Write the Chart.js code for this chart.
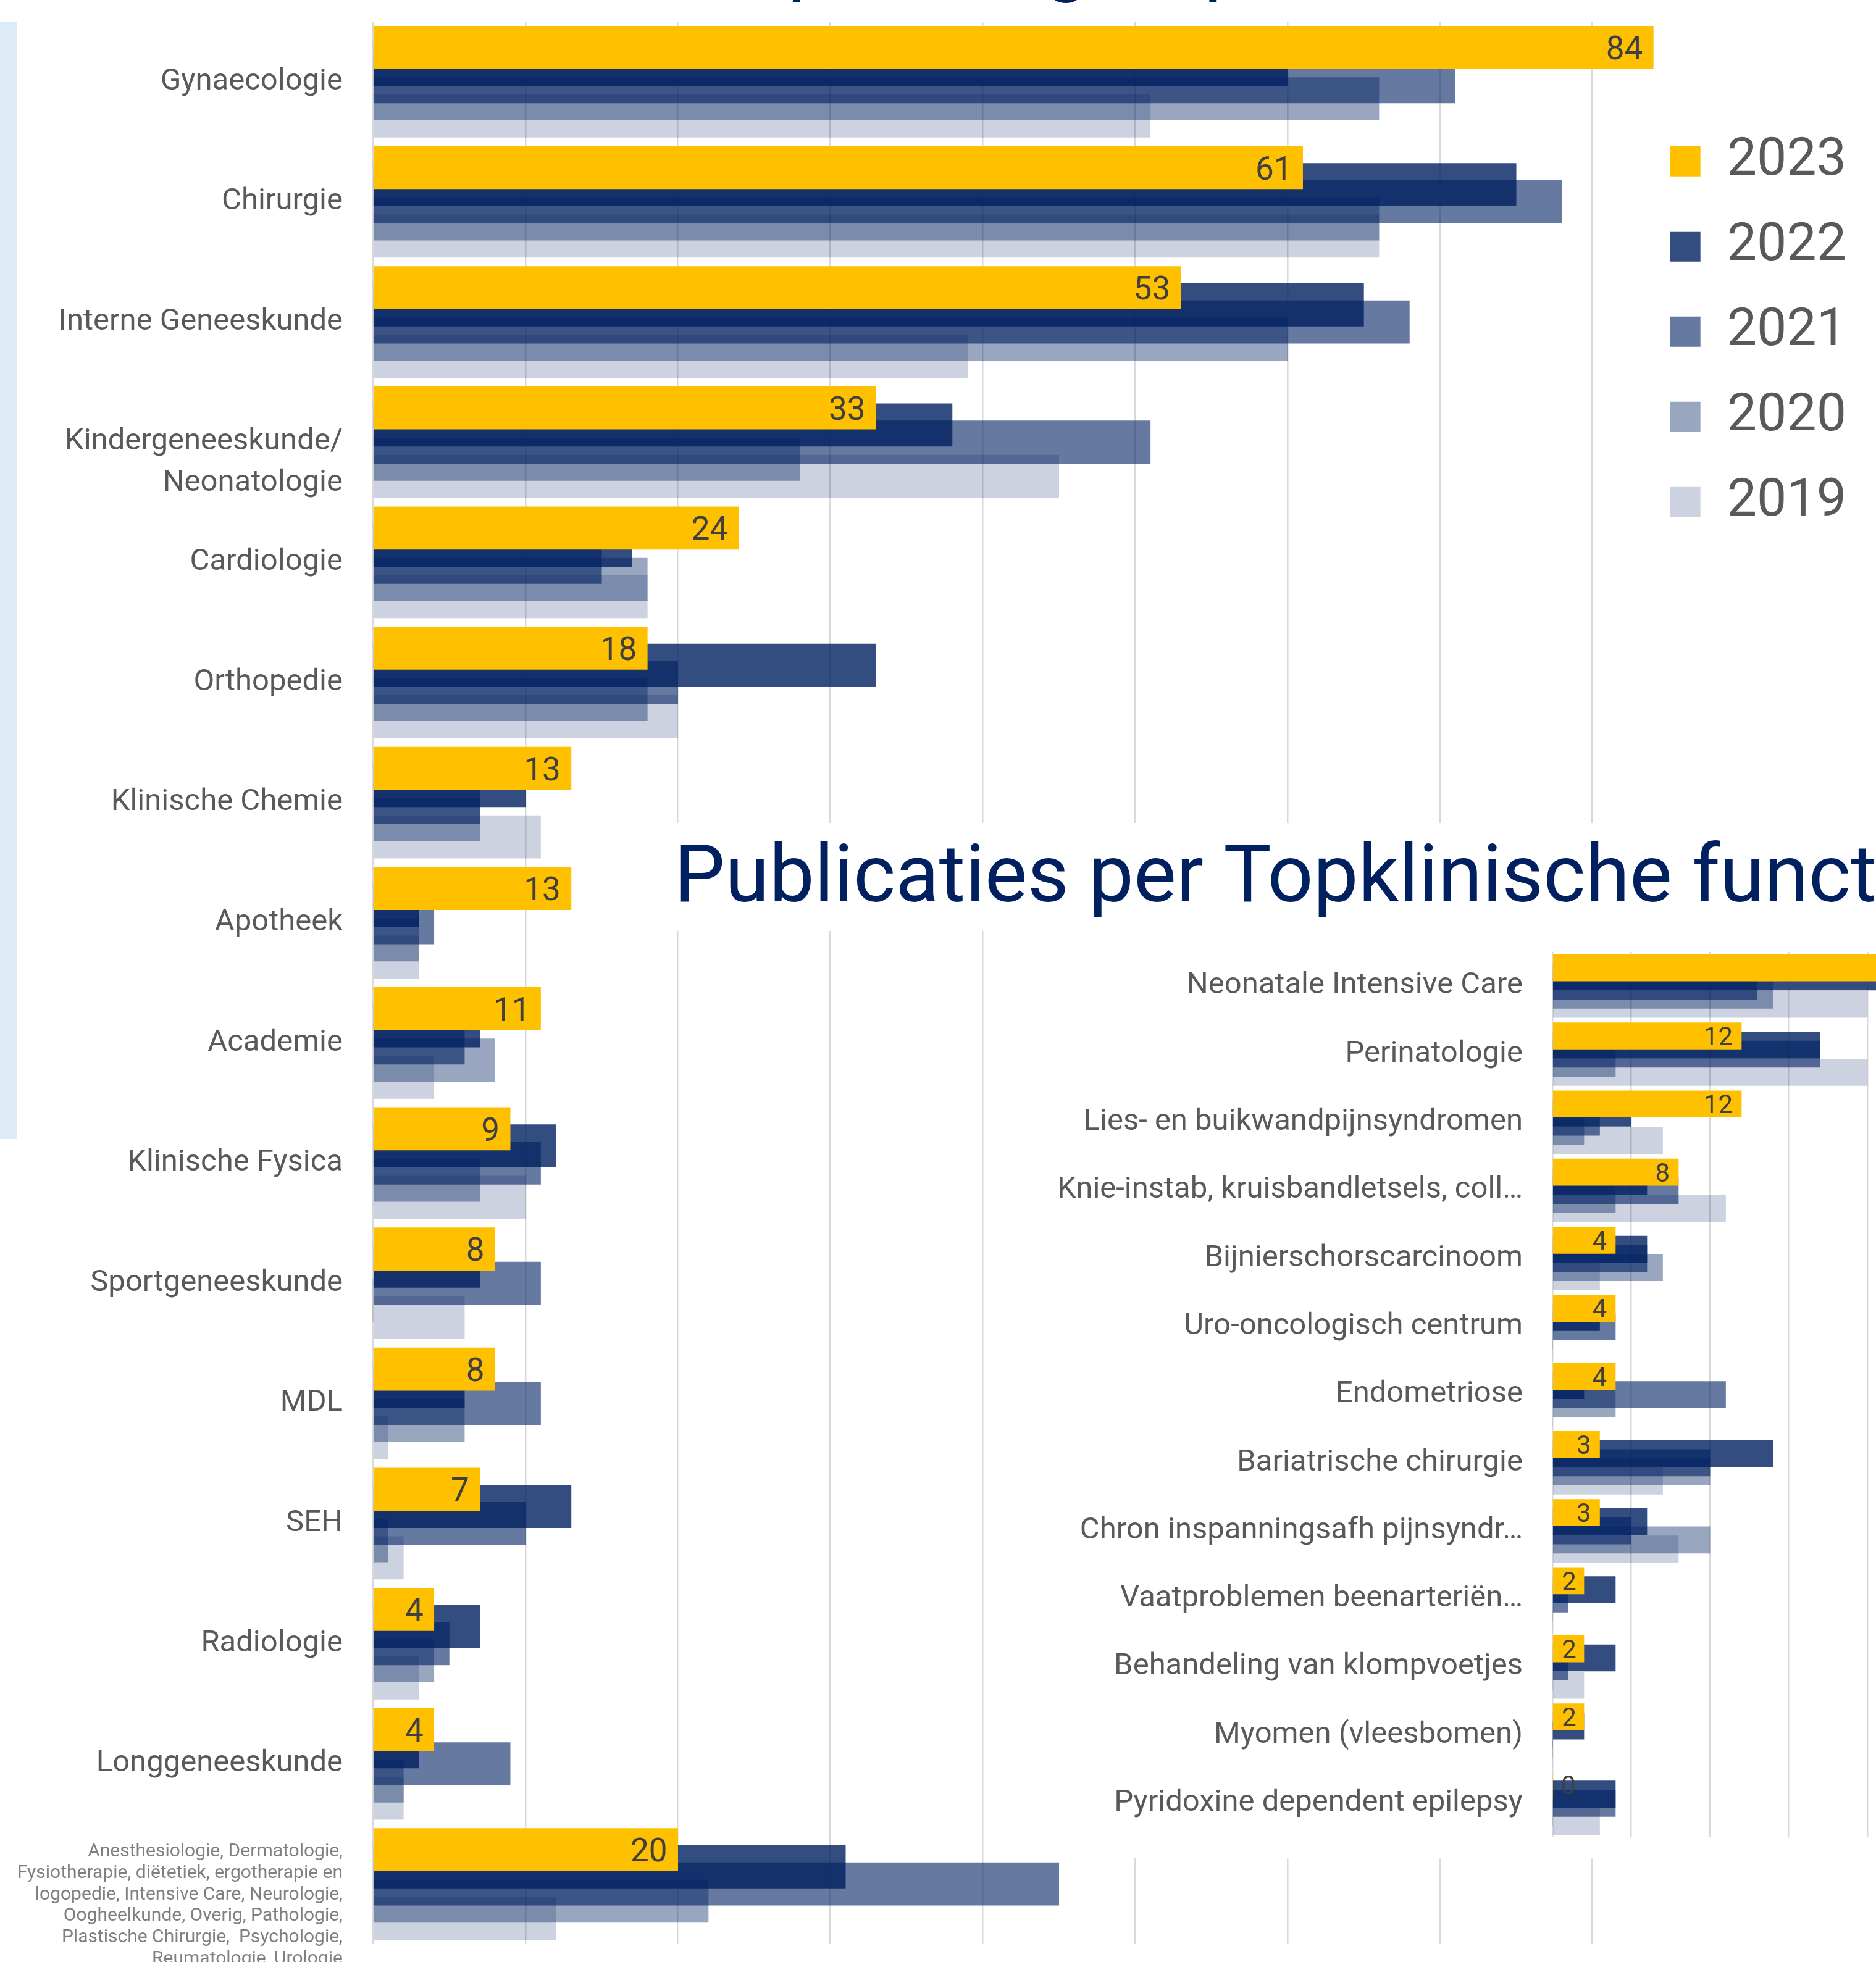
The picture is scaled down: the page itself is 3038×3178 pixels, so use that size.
<!DOCTYPE html>
<html>
<head>
<meta charset="utf-8">
<script src="https://cdn.jsdelivr.net/npm/chart.js@4"></script>
<style>
  html, body { margin: 0; padding: 0; width: 3038px; height: 3178px; overflow: hidden; background: #fff; }
  #left { position: absolute; left: 0; top: 0; }
  #right { position: absolute; left: 1085px; top: 1333px; }
</style>
</head>
<body>
<canvas id="left" width="3038" height="3178"></canvas>
<canvas id="right" width="2194" height="1676"></canvas>
<script>
// data
const years = ['2023', '2022', '2021', '2020', '2019'];

const deptLabels = [
    'Gynaecologie', 'Chirurgie', 'Interne Geneeskunde',
    ['', 'Kindergeneeskunde/', 'Neonatologie'],
    'Cardiologie', 'Orthopedie', 'Klinische Chemie', 'Apotheek', 'Academie',
    'Klinische Fysica', 'Sportgeneeskunde', 'MDL', 'SEH', 'Radiologie', 'Longgeneeskunde',
    ['', '', 'Anesthesiologie, Dermatologie,', 'Fysiotherapie, diëtetiek, ergotherapie en',
     'logopedie, Intensive Care, Neurologie,', 'Oogheelkunde, Overig, Pathologie,',
     'Plastische Chirurgie,  Psychologie,', 'Reumatologie, Urologie']
];
const dept2023 = [84, 61, 53, 33, 24, 18, 13, 13, 11, 9, 8, 8, 7, 4, 4, 20];
const dept2022 = [60, 75, 65, 38, 17, 33, 10, 3, 7, 12, 7, 6, 13, 7, 3, 31];
const dept2021 = [71, 78, 68, 51, 15, 20, 7, 4, 6, 11, 11, 11, 10, 5, 9, 45];
const dept2020 = [66, 66, 60, 28, 18, 18, 7, 3, 8, 7, 0, 6, 1, 4, 2, 22];
const dept2019 = [51, 66, 39, 45, 18, 20, 11, 3, 4, 10, 6, 1, 2, 3, 2, 12];

const topLabels = [
    'Neonatale Intensive Care', 'Perinatologie', 'Lies- en buikwandpijnsyndromen',
    'Knie-instab, kruisbandletsels, coll…', 'Bijnierschorscarcinoom', 'Uro-oncologisch centrum',
    'Endometriose', 'Bariatrische chirurgie', 'Chron inspanningsafh pijnsyndr…',
    'Vaatproblemen beenarteriën…', 'Behandeling van klompvoetjes', 'Myomen (vleesbomen)',
    'Pyridoxine dependent epilepsy'
];
const top2023 = [25, 12, 12, 8, 4, 4, 4, 3, 3, 2, 2, 2, 0];
const top2022 = [22, 17, 5, 6, 6, 3, 2, 14, 6, 4, 4, 2, 4];
const top2021 = [13, 17, 3, 8, 6, 4, 11, 10, 5, 1, 1, 0, 4];
const top2020 = [14, 4, 2, 4, 7, 0, 4, 10, 10, 0, 0, 0, 0];
const top2019 = [20, 20, 7, 11, 3, 0, 0, 7, 8, 0, 2, 0, 3];

const deptTicks = [0, 10, 20, 30, 40, 50, 60, 70, 80];
const topTicks = [0, 5, 10, 15, 20, 25, 30];

// colours
const navy = a => 'rgba(0, 32, 96, ' + a + ')';
const seriesColors = ['#FFC000', navy(0.8), navy(0.6), navy(0.4), navy(0.2)];

// overlapping bars: each year sits a little lower than the one before
function buildDatasets(series, step) {
    return series.map((vals, k) => ({
        label: years[k],
        data: vals.map((v, i) => ({ x: v, y: i + (k - 2) * step })),
        backgroundColor: seriesColors[k],
        borderWidth: 0,
        grouped: false,
        clip: false
    }));
}

// fixed label column, no extra room for tall first/last labels
function fixAxis(width) {
    return s => {
        s.width = width;
        s.paddingTop = 0;
        s.paddingBottom = 0;
    };
}

// value labels on the 2023 bars, inside end
const valueLabels = {
    id: 'valueLabels',
    afterDatasetsDraw(chart, args, opts) {
        const ctx = chart.ctx;
        const meta = chart.getDatasetMeta(0);
        ctx.save();
        ctx.font = opts.size + 'px Roboto';
        ctx.fillStyle = '#404040';
        ctx.textAlign = 'right';
        ctx.textBaseline = 'alphabetic';
        meta.data.forEach((bar, i) => {
            const txt = String(chart.data.datasets[0].data[i].x);
            const w = ctx.measureText(txt).width;
            const x = Math.max(bar.x - opts.pad, bar.base + w + opts.pad);
            ctx.fillText(txt, x, bar.y + opts.size * 0.36);
        });
        ctx.restore();
    }
};

// side strip and the clipped heading of the first chart
const leftDecor = {
    id: 'leftDecor',
    beforeDraw(chart) {
        const ctx = chart.ctx;
        ctx.save();
        ctx.fillStyle = '#DDEBF7';
        ctx.fillRect(0, 35, 27, 1810);
        ctx.font = '130px Roboto';
        ctx.fillStyle = '#002060';
        ctx.textBaseline = 'alphabetic';
        ctx.fillText('Publicaties per vakgroep', 604, -22);
        ctx.restore();
    }
};

// white panel behind the second chart
const whiteBackdrop = {
    id: 'whiteBackdrop',
    beforeDraw(chart) {
        const ctx = chart.ctx;
        ctx.save();
        ctx.fillStyle = '#ffffff';
        ctx.fillRect(0, 0, chart.width, 175);
        ctx.fillRect(595, 175, chart.width - 595, chart.height - 175);
        ctx.restore();
    }
};

function drawCharts() {
    Chart.defaults.font.family = 'Roboto';

    // render init block: publications per department
    new Chart(document.getElementById('left'), {
        type: 'bar',
        data: { datasets: buildDatasets([dept2023, dept2022, dept2021, dept2020, dept2019], 0.1426) },
        options: {
            indexAxis: 'y',
            responsive: false,
            animation: false,
            layout: { padding: { top: 35, bottom: 29, left: 0, right: 38 } },
            datasets: { bar: { barThickness: 69 } },
            scales: {
                x: {
                    type: 'linear',
                    min: 0,
                    max: 83,
                    afterBuildTicks: s => { s.ticks = deptTicks.map(v => ({ value: v })); },
                    ticks: { display: false },
                    grid: { color: '#D9D9D9', lineWidth: 2.5, drawTicks: false },
                    border: { display: false }
                },
                y: {
                    type: 'linear',
                    offset: false,
                    min: -0.5,
                    max: deptLabels.length - 0.5,
                    reverse: true,
                    afterBuildTicks: s => { s.ticks = deptLabels.map((_, i) => ({ value: i })); },
                    afterFit: fixAxis(604),
                    ticks: {
                        autoSkip: false,
                        padding: 41,
                        callback: (v, i) => deptLabels[i],
                        color: c => c.index === deptLabels.length - 1 ? '#7F7F7F' : '#595959',
                        font: c => c.index === deptLabels.length - 1
                            ? { size: 30, lineHeight: 1.16 }
                            : { size: 49, lineHeight: 1.36 }
                    },
                    grid: { display: false },
                    border: { display: false }
                }
            },
            plugins: {
                legend: {
                    position: 'right',
                    align: 'start',
                    labels: { boxWidth: 49, boxHeight: 49, padding: 52, color: '#595959', font: { size: 86 } },
                    title: { display: true, text: '', font: { size: 1 }, padding: { top: 130, bottom: 0 } }
                },
                tooltip: { enabled: false },
                valueLabels: { size: 53, pad: 17 }
            }
        },
        plugins: [valueLabels, leftDecor]
    });

    // render init block: publications per top clinical function
    new Chart(document.getElementById('right'), {
        type: 'bar',
        data: { datasets: buildDatasets([top2023, top2022, top2021, top2020, top2019], 0.1337) },
        options: {
            indexAxis: 'y',
            responsive: false,
            animation: false,
            layout: { padding: { top: 0, bottom: 33, left: 7, right: 0 } },
            datasets: { bar: { barThickness: 43 } },
            scales: {
                x: {
                    type: 'linear',
                    min: 0,
                    max: 30,
                    afterBuildTicks: s => { s.ticks = topTicks.map(v => ({ value: v })); },
                    ticks: { display: false },
                    grid: { color: '#D9D9D9', lineWidth: 2.5, drawTicks: false },
                    border: { display: false }
                },
                y: {
                    type: 'linear',
                    offset: false,
                    min: -0.5,
                    max: topLabels.length - 0.5,
                    reverse: true,
                    afterBuildTicks: s => { s.ticks = topLabels.map((_, i) => ({ value: i })); },
                    afterFit: fixAxis(1422),
                    ticks: {
                        autoSkip: false,
                        padding: 40,
                        callback: (v, i) => topLabels[i],
                        color: '#595959',
                        font: { size: 49 }
                    },
                    grid: { display: false },
                    border: { display: false }
                }
            },
            plugins: {
                legend: { display: false },
                tooltip: { enabled: false },
                title: {
                    display: true,
                    text: 'Publicaties per Topklinische functie',
                    align: 'start',
                    color: '#002060',
                    font: { size: 130, weight: 'normal' },
                    padding: { top: 16, bottom: 37 }
                },
                valueLabels: { size: 42, pad: 14 }
            }
        },
        plugins: [valueLabels, whiteBackdrop]
    });
}

Promise.all([
    document.fonts.load('49px Roboto'),
    document.fonts.load('130px Roboto')
]).then(drawCharts, drawCharts);
</script>
</body>
</html>
